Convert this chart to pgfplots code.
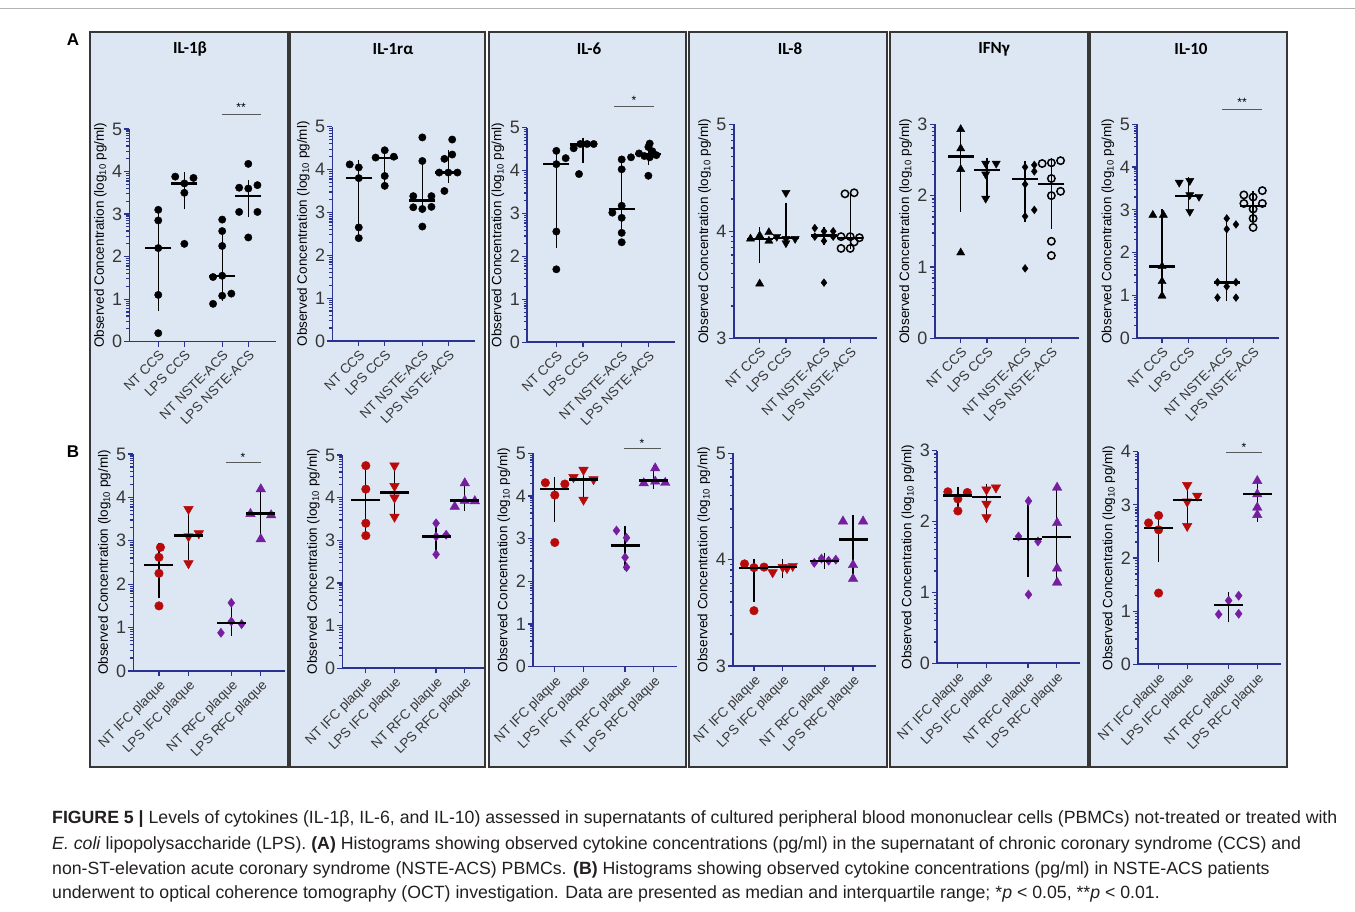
\documentclass[border=0pt]{standalone}
\usepackage{fontspec}
\setmainfont{Liberation Sans}
\newfontfamily\titlefont{Carlito}
\usepackage{pgfplots}
\pgfplotsset{compat=1.18}

\definecolor{axblue}{RGB}{42,50,145}
\definecolor{boxfill}{RGB}{221,231,243}
\definecolor{boxline}{RGB}{55,55,55}
\definecolor{txtgray}{RGB}{55,55,55}
\definecolor{cred}{RGB}{185,10,10}
\definecolor{cpur}{RGB}{118,30,160}
\definecolor{captxt}{RGB}{35,31,32}

\def\mlfive{0.301,0.477,0.602,0.699,0.778,0.845,0.903,0.954,1.301,1.477,1.602,1.699,1.778,1.845,1.903,1.954,2.301,2.477,2.602,2.699,2.778,2.845,2.903,2.954,3.301,3.477,3.602,3.699,3.778,3.845,3.903,3.954,4.301,4.477,4.602,4.699,4.778,4.845,4.903,4.954}
\def\mlfour{0.301,0.477,0.602,0.699,0.778,0.845,0.903,0.954,1.301,1.477,1.602,1.699,1.778,1.845,1.903,1.954,2.301,2.477,2.602,2.699,2.778,2.845,2.903,2.954,3.301,3.477,3.602,3.699,3.778,3.845,3.903,3.954}
\def\mlthree{0.301,0.477,0.602,0.699,0.778,0.845,0.903,0.954,1.301,1.477,1.602,1.699,1.778,1.845,1.903,1.954,2.301,2.477,2.602,2.699,2.778,2.845,2.903,2.954}
\def\mleight{3.301,3.477,3.602,3.699,3.778,3.845,3.903,3.954,4.301,4.477,4.602,4.699,4.778,4.845,4.903,4.954}

\pgfplotsset{
  cyt/.style={scale only axis, axis lines*=left, clip=false,
    axis line style={draw=axblue, line width=1.6pt},
    tick style={draw=axblue, line width=1.2pt},
    tick align=outside, major tick length=5pt, minor tick length=3pt,
    xtick={1,2,3.45,4.45},
    /pgf/number format/assume math mode=true,
    yticklabel style={font=\fontsize{18}{20}\selectfont, text=txtgray, inner sep=2pt},
    xticklabel style={rotate=45, anchor=north east, font=\fontsize{13.5}{15}\selectfont, text=txtgray, inner sep=2pt},
    ylabel={Observed Concentration (log\textsubscript{10} pg/ml)},
    ylabel style={font=\fontsize{13.5}{15}\selectfont, text=black},
  },
  rowA/.style={cyt, xticklabels={NT CCS, LPS CCS, NT NSTE-ACS, LPS NSTE-ACS}},
  rowB/.style={cyt, xticklabels={NT IFC plaque, LPS IFC plaque, NT RFC plaque, LPS RFC plaque}},
  circA/.style={only marks, mark=*, mark size=3.7pt, mark options={draw=black, fill=black}},
  upA/.style={only marks, mark=triangle*, mark size=4.7pt, mark options={draw=black, fill=black}},
  dnA/.style={only marks, mark=triangle*, mark size=4.7pt, mark options={draw=black, fill=black, rotate=180}},
  diaA/.style={only marks, mark=diamond*, mark size=3.9pt, mark options={draw=black, fill=black}},
  openA/.style={only marks, mark=o, mark size=3.7pt, mark options={draw=black, line width=1.5pt}},
  circB/.style={only marks, mark=*, mark size=4.3pt, mark options={draw=cred, fill=cred}},
  dnB/.style={only marks, mark=triangle*, mark size=5.5pt, mark options={draw=cred, fill=cred, rotate=180}},
  diaB/.style={only marks, mark=diamond*, mark size=4.6pt, mark options={draw=cpur, fill=cpur}},
  upB/.style={only marks, mark=triangle*, mark size=5.5pt, mark options={draw=cpur, fill=cpur}},
  summA/.style={only marks, mark=-, mark size=13pt, mark options={draw=black, line width=2.4pt},
    error bars/y dir=both, error bars/y explicit,
    error bars/error bar style={draw=black, line width=1.3pt},
    error bars/error mark options={draw=black, line width=1.3pt, mark size=6pt}},
  summB/.style={summA, mark size=14.5pt},
}
\newcommand{\summ}[2]{\addplot[#1] table[x=x,y=m,y error plus expr=\thisrow{hi}-\thisrow{m},y error minus expr=\thisrow{m}-\thisrow{lo},row sep=\\]{#2};}

\begin{document}
\begin{tikzpicture}[x=1pt,y=1pt]
\path[use as bounding box] (0,0) rectangle (1355,912);
\fill[white] (0,0) rectangle (1355,912);
\draw[gray!60, line width=0.8pt] (0,904) -- (1355,904);
% column boxes
\foreach \a/\b in {90/288, 290/485, 489/686, 689/887, 890/1088, 1090/1287}{
  \draw[draw=boxline, fill=boxfill, line width=1.3pt] (\a,145) rectangle (\b,880);}
% panel letters
\node[font=\bfseries\fontsize{17}{19}\selectfont] at (73,872) {A};
\node[font=\bfseries\fontsize{17}{19}\selectfont] at (73,460) {B};
% titles
\begin{scope}[every node/.style={font=\titlefont\bfseries\fontsize{17}{19}\selectfont}]
\node at (190,863) {IL-1β};
\node at (393,863) {IL-1rα};
\node at (589,863) {IL-6};
\node at (790,863) {IL-8};
\node at (994,863) {IFNγ};
\node at (1191,863) {IL-10};
\end{scope}

%================ ROW A ================
% IL-1beta
\begin{axis}[rowA, at={(129.3pt,570.3pt)}, anchor=south west, width=146.4pt, height=212.7pt,
  xmin=-0.11, xmax=5.50, ymin=0, ymax=5, ytick={0,1,2,3,4,5}, minor ytick=\mlfive]
\addplot[circA] coordinates {(1,3.1) (1,2.85) (1,2.2) (1,1.1) (1,0.2)};
\addplot[circA] coordinates {(1.65,3.88) (2.35,3.85) (2,3.72) (2,3.5) (2,2.3)};
\addplot[circA] coordinates {(3.45,2.87) (3.45,2.6) (3.45,2.25) (3.1,1.52) (3.45,1.55) (3.45,1.08) (3.8,1.13) (3.1,0.89)};
\addplot[circA] coordinates {(4.45,4.18) (4.1,3.62) (4.8,3.68) (4.45,3.6) (4.1,3.05) (4.8,3.05) (4.45,2.45)};
\summ{summA}{x m hi lo\\ 1 2.2 3.0 0.87\\ 2 3.72 3.85 3.25\\ 3.45 1.55 2.52 1.1\\ 4.45 3.43 3.65 3.07\\}
\end{axis}
% IL-1ra
\begin{axis}[rowA, at={(332.3pt,571pt)}, anchor=south west, width=143pt, height=214.3pt,
  xmin=-0.02, xmax=5.49, ymin=0, ymax=5, ytick={0,1,2,3,4,5}, minor ytick=\mlfive]
\addplot[circA] coordinates {(0.65,4.12) (1,4.05) (1,3.8) (1,2.65) (1,2.4)};
\addplot[circA] coordinates {(2,4.45) (2.35,4.3) (1.65,4.28) (2,3.85) (2,3.62)};
\addplot[circA] coordinates {(3.45,4.75) (3.45,4.2) (3.1,3.38) (3.8,3.38) (3.1,3.12) (3.45,3.08) (3.8,3.13) (3.45,2.67)};
\addplot[circA] coordinates {(4.6,4.7) (4.6,4.35) (4.3,4.25) (4.1,3.93) (4.45,3.93) (4.8,3.93) (4.3,3.5)};
\summ{summA}{x m hi lo\\ 1 3.8 4.08 2.55\\ 2 4.27 4.38 3.73\\ 3.45 3.28 4.08 3.12\\ 4.45 3.93 4.32 3.83\\}
\end{axis}
% IL-6
\begin{axis}[rowA, at={(527pt,569.7pt)}, anchor=south west, width=148.3pt, height=214.6pt,
  xmin=-0.10, xmax=5.46, ymin=0, ymax=5, ytick={0,1,2,3,4,5}, minor ytick=\mlfive]
\addplot[circA] coordinates {(1,4.46) (1.35,4.29) (1,4.15) (1,2.58) (1,1.7)};
\addplot[circA] coordinates {(1.65,4.52) (1.9,4.62) (2.15,4.62) (2.4,4.62) (1.85,3.92)};
\addplot[circA] coordinates {(3.45,4.26) (3.8,4.31) (3.45,4.03) (3.45,3.18) (3.1,3.02) (3.45,2.9) (3.45,2.55) (3.45,2.33)};
\addplot[circA] coordinates {(4.5,4.63) (4.45,4.55) (4.1,4.4) (4.3,4.34) (4.5,4.31) (4.75,4.36) (4.45,3.88) (4.6,4.45)};
\summ{summA}{x m hi lo\\ 1 4.15 4.38 2.33\\ 2 4.61 4.63 4.32\\ 3.45 3.1 4.21 2.67\\ 4.45 4.38 4.52 4.28\\}
\end{axis}
% IL-8
\begin{axis}[rowA, at={(733.7pt,573.7pt)}, anchor=south west, width=143.3pt, height=214pt,
  xmin=0.01, xmax=5.47, ymin=3, ymax=5, ytick={3,4,5}, minor ytick=\mleight]
\addplot[upA] coordinates {(0.65,3.93) (1,3.96) (1.35,3.99) (1.35,3.91) (1,3.51)};
\addplot[dnA] coordinates {(2,4.36) (1.65,3.95) (2.35,3.93) (2,3.89) (2,3.93)};
\addplot[diaA] coordinates {(3.1,4.03) (3.45,4.0) (3.8,4.0) (3.1,3.95) (3.8,3.95) (3.45,3.91) (3.45,3.52)};
\addplot[openA] coordinates {(4.25,4.35) (4.6,4.36) (4.1,3.95) (4.45,3.95) (4.8,3.94) (4.1,3.84) (4.45,3.84) (4.6,3.9)};
\summ{summA}{x m hi lo\\ 1 3.93 3.98 3.76\\ 2 3.94 4.21 3.91\\ 3.45 3.96 3.98 3.93\\ 4.45 3.94 4.29 3.89\\}
\end{axis}
% IFNg
\begin{axis}[rowA, at={(934.7pt,573.7pt)}, anchor=south west, width=144pt, height=214pt,
  xmin=0.01, xmax=5.49, ymin=0, ymax=3, ytick={0,1,2,3}, minor ytick=\mlthree]
\addplot[upA] coordinates {(1,2.93) (1,2.66) (1,2.37) (1,1.2)};
\addplot[dnA] coordinates {(1.95,2.45) (2.35,2.45) (1.95,2.3) (1.95,1.96)};
\addplot[diaA] coordinates {(3.45,2.4) (3.8,2.43) (3.8,2.34) (3.45,2.16) (3.45,1.71) (3.8,1.8) (3.45,0.98)};
\addplot[openA] coordinates {(4.1,2.45) (4.45,2.46) (4.8,2.49) (4.45,2.24) (4.45,2.0) (4.8,2.06) (4.45,1.36) (4.45,1.16)};
\summ{summA}{x m hi lo\\ 1 2.55 2.88 1.86\\ 2 2.36 2.44 2.05\\ 3.45 2.23 2.40 1.72\\ 4.45 2.16 2.45 1.62\\}
\end{axis}
% IL-10
\begin{axis}[rowA, at={(1137pt,573.7pt)}, anchor=south west, width=141.7pt, height=214pt,
  xmin=0.05, xmax=5.42, ymin=0, ymax=5, ytick={0,1,2,3,4,5}, minor ytick=\mlfive]
\addplot[upA] coordinates {(0.65,2.88) (1.05,2.88) (1,1.68) (1,1.33) (1,0.99)};
\addplot[dnA] coordinates {(1.65,3.64) (2.05,3.68) (2.05,3.35) (2.4,3.31) (2.05,2.96)};
\addplot[diaA] coordinates {(3.45,2.8) (3.8,2.66) (3.45,2.55) (3.1,1.31) (3.8,1.31) (3.45,1.21) (3.1,0.95) (3.8,0.95)};
\addplot[openA] coordinates {(4.8,3.45) (4.1,3.35) (4.45,3.3) (4.1,3.15) (4.8,3.15) (4.45,3.02) (4.45,2.8) (4.45,2.59)};
\summ{summA}{x m hi lo\\ 1 1.68 2.88 1.21\\ 2 3.33 3.62 3.14\\ 3.45 1.3 2.62 1.01\\ 4.45 3.09 3.31 2.88\\}
\end{axis}

%================ ROW B ================
% IL-1beta
\begin{axis}[rowB, at={(133.3pt,241pt)}, anchor=south west, width=151.7pt, height=217pt,
  xmin=0.13, xmax=5.27, ymin=0, ymax=5, ytick={0,1,2,3,4,5}, minor ytick=\mlfive]
\addplot[circB] coordinates {(1.05,2.85) (1,2.62) (1,2.25) (1,1.5)};
\addplot[dnB] coordinates {(2,3.73) (2,3.1) (2.35,3.17) (2,2.48)};
\addplot[diaB] coordinates {(3.45,1.57) (3.45,1.14) (3.1,0.88) (3.8,1.08)};
\addplot[upB] coordinates {(4.45,4.19) (4.1,3.62) (4.8,3.59) (4.45,3.04)};
\summ{summB}{x m hi lo\\ 1 2.44 2.80 1.83\\ 2 3.12 3.62 2.70\\ 3.45 1.11 1.50 0.94\\ 4.45 3.63 4.09 3.26\\}
\end{axis}
% IL-1ra
\begin{axis}[rowB, at={(342.3pt,243.7pt)}, anchor=south west, width=141.7pt, height=213.3pt,
  xmin=0.18, xmax=5.12, ymin=0, ymax=5, ytick={0,1,2,3,4,5}, minor ytick=\mlfive]
\addplot[circB] coordinates {(1,4.75) (1,4.2) (1,3.4) (1,3.11)};
\addplot[dnB] coordinates {(2,4.75) (2,4.27) (2,4.0) (2,3.55)};
\addplot[diaB] coordinates {(3.45,3.4) (3.8,3.13) (3.45,3.09) (3.45,2.67)};
\addplot[upB] coordinates {(4.45,4.34) (4.1,3.79) (4.45,3.93) (4.8,3.92)};
\summ{summB}{x m hi lo\\ 1 3.95 4.66 3.2\\ 2 4.12 4.63 3.67\\ 3.45 3.09 3.32 2.8\\ 4.45 3.93 4.27 3.83\\}
\end{axis}
% IL-6
\begin{axis}[rowB, at={(533pt,245.3pt)}, anchor=south west, width=144.3pt, height=213.4pt,
  xmin=0.24, xmax=5.27, ymin=0, ymax=5, ytick={0,1,2,3,4,5}, minor ytick=\mlfive]
\addplot[circB] coordinates {(0.67,4.31) (1.35,4.28) (1,4.02) (1,2.91)};
\addplot[dnB] coordinates {(2,4.61) (1.65,4.44) (2.35,4.39) (2,3.91)};
\addplot[diaB] coordinates {(3.15,3.19) (3.5,3.02) (3.45,2.56) (3.5,2.33)};
\addplot[upB] coordinates {(4.5,4.65) (4.1,4.3) (4.5,4.34) (4.85,4.31)};
\summ{summB}{x m hi lo\\ 1 4.16 4.30 3.53\\ 2 4.39 4.55 4.08\\ 3.45 2.84 3.15 2.40\\ 4.45 4.36 4.59 4.31\\}
\end{axis}
% IL-8
\begin{axis}[rowB, at={(733pt,246pt)}, anchor=south west, width=143.3pt, height=212.7pt,
  xmin=0.27, xmax=5.26, ymin=3, ymax=5, ytick={3,4,5}, minor ytick=\mleight]
\addplot[circB] coordinates {(0.67,3.96) (1,3.925) (1.35,3.93) (1,3.52)};
\addplot[dnB] coordinates {(1.65,3.88) (2,3.93) (2.35,3.94) (2.15,3.92)};
\addplot[diaB] coordinates {(3.1,3.97) (3.35,4.01) (3.6,3.99) (3.85,4.0)};
\addplot[upB] coordinates {(4.1,4.36) (4.8,4.36) (4.45,3.95) (4.45,3.82)};
\summ{summB}{x m hi lo\\ 1 3.92 3.95 3.66\\ 2 3.93 3.95 3.88\\ 3.45 3.99 4.01 3.97\\ 4.45 4.19 4.36 3.87\\}
\end{axis}
% IFNg
\begin{axis}[rowB, at={(937pt,248.7pt)}, anchor=south west, width=142.7pt, height=212.6pt,
  xmin=0.27, xmax=5.26, ymin=0, ymax=3, ytick={0,1,2,3}, minor ytick=\mlthree]
\addplot[circB] coordinates {(0.65,2.42) (1.33,2.41) (1,2.32) (1,2.15)};
\addplot[dnB] coordinates {(2.33,2.48) (2,2.45) (2,2.25) (2,2.06)};
\addplot[diaB] coordinates {(3.47,2.29) (3.12,1.79) (3.8,1.72) (3.47,0.97)};
\addplot[upB] coordinates {(4.47,2.48) (4.47,1.98) (4.47,1.34) (4.47,1.14)};
\summ{summB}{x m hi lo\\ 1 2.37 2.41 2.20\\ 2 2.35 2.45 2.11\\ 3.45 1.75 2.21 1.30\\ 4.45 1.78 2.41 1.21\\}
\end{axis}
% IL-10
\begin{axis}[rowB, at={(1138pt,247.7pt)}, anchor=south west, width=142.7pt, height=212.6pt,
  xmin=0.28, xmax=5.27, ymin=0, ymax=4, ytick={0,1,2,3,4}, minor ytick=\mlfour]
\addplot[circB] coordinates {(1,2.8) (0.65,2.66) (1,2.53) (1,1.34)};
\addplot[dnB] coordinates {(2,3.37) (2.35,3.17) (2,3.06) (2,2.6)};
\addplot[diaB] coordinates {(3.8,1.29) (3.45,1.2) (3.1,0.94) (3.8,0.95)};
\addplot[upB] coordinates {(4.45,3.45) (4.45,3.2) (4.45,2.95) (4.45,2.81)};
\summ{summB}{x m hi lo\\ 1 2.56 2.78 2.03\\ 2 3.09 3.30 2.71\\ 3.45 1.12 1.25 0.90\\ 4.45 3.20 3.39 2.79\\}
\end{axis}

% significance bars
\begin{scope}[every node/.style={font=\fontsize{12}{14}\selectfont, inner sep=0pt}]
\draw[gray!70!black, line width=0.9pt] (221.7,798) -- (261,798);
\node at (241,805) {**};
\draw[gray!70!black, line width=0.9pt] (614,806) -- (653.7,806);
\node at (634,812) {*};
\draw[gray!70!black, line width=0.9pt] (1222,803) -- (1262,803);
\node at (1242,810) {**};
\draw[gray!70!black, line width=0.9pt] (225.7,449.3) -- (261,449.3);
\node at (243,455) {*};
\draw[gray!70!black, line width=0.9pt] (624,463.7) -- (661,463.7);
\node at (642,469) {*};
\draw[gray!70!black, line width=0.9pt] (1226,459.7) -- (1262,459.7);
\node at (1244,465) {*};
\end{scope}

% caption
\begin{scope}[every node/.style={anchor=base west, inner sep=0pt, text=captxt, font=\fontsize{17.7}{20}\selectfont}]
\node at (52,88.5) {\textbf{FIGURE 5 |} Levels of cytokines (IL-1β, IL-6, and IL-10) assessed in supernatants of cultured peripheral blood mononuclear cells (PBMCs) not-treated or treated with};
\node at (52,62) {\textit{E. coli} lipopolysaccharide (LPS). \textbf{(A)} Histograms showing observed cytokine concentrations (pg/ml) in the supernatant of chronic coronary syndrome (CCS) and};
\node at (52,37.5) {non-ST-elevation acute coronary syndrome (NSTE-ACS) PBMCs. \textbf{(B)} Histograms showing observed cytokine concentrations (pg/ml) in NSTE-ACS patients};
\node at (52,13) {underwent to optical coherence tomography (OCT) investigation. Data are presented as median and interquartile range; *\textit{p} < 0.05, **\textit{p} < 0.01.};
\end{scope}
\end{tikzpicture}
\end{document}
